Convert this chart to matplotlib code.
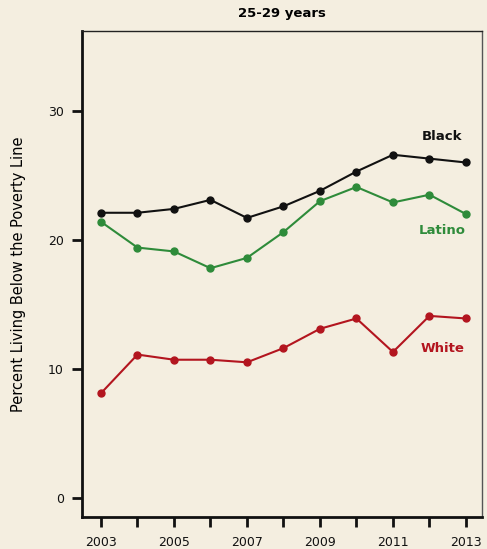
import matplotlib.pyplot as plt

# poverty rate, 25-29 years
years = [2003, 2004, 2005, 2006, 2007, 2008, 2009, 2010, 2011, 2012, 2013]
black = [22.1, 22.1, 22.4, 23.1, 21.7, 22.6, 23.8, 25.3, 26.6, 26.3, 26.0]
latino = [21.4, 19.4, 19.1, 17.8, 18.6, 20.6, 23.0, 24.1, 22.9, 23.5, 22.0]
white = [8.1, 11.1, 10.7, 10.7, 10.5, 11.6, 13.1, 13.9, 11.3, 14.1, 13.9]
tick_years = [2003, 2005, 2007, 2009, 2011, 2013]

bg = "#f4eee0"
plt.rcParams['font.family'] = ['DejaVu Sans']

fig = plt.figure(figsize=(4.87, 5.49), dpi=100, facecolor=bg)
ax = fig.add_axes([82/487, 32/549, 400/487, 486/549])
ax.set_facecolor(bg)

series = [(black, "#111111", "Black", 28.0),
          (latino, "#2e8b3a", "Latino", 20.7),
          (white, "#b3151f", "White", 11.6)]
for vals, col, name, ly in series:
    ax.plot(years, vals, color=col, lw=1.5, marker="o", ms=5)
    ax.text(2012.35, ly, name, color=col, fontsize=9.5, fontweight="bold",
            ha="center", va="center")

ax.set_xlim(2002.48, 2013.44)
ax.set_ylim(-1.5, 36.2)
ax.set_yticks([0, 10, 20, 30])
ax.set_xticks(years)
ax.set_xticklabels([str(y) if y in tick_years else "" for y in years])

for s in ["left", "bottom"]:
    ax.spines[s].set_linewidth(2)
    ax.spines[s].set_color("#111111")
ax.spines["top"].set_linewidth(1)
ax.spines["top"].set_color("#222222")
ax.spines["right"].set_linewidth(1)
ax.spines["right"].set_color("#555555")

ax.tick_params(axis="both", direction="out", length=7, width=2,
               color="#111111", labelsize=9, labelcolor="#111111")
ax.tick_params(axis="y", pad=6)
ax.tick_params(axis="x", pad=7)
ax.set_ylabel("Percent Living Below the Poverty Line", fontsize=10.5, labelpad=16)
ax.set_title("25-29 years", fontsize=9.5, fontweight="bold", pad=10)

fig.savefig("out.png", dpi=100, facecolor=bg)
